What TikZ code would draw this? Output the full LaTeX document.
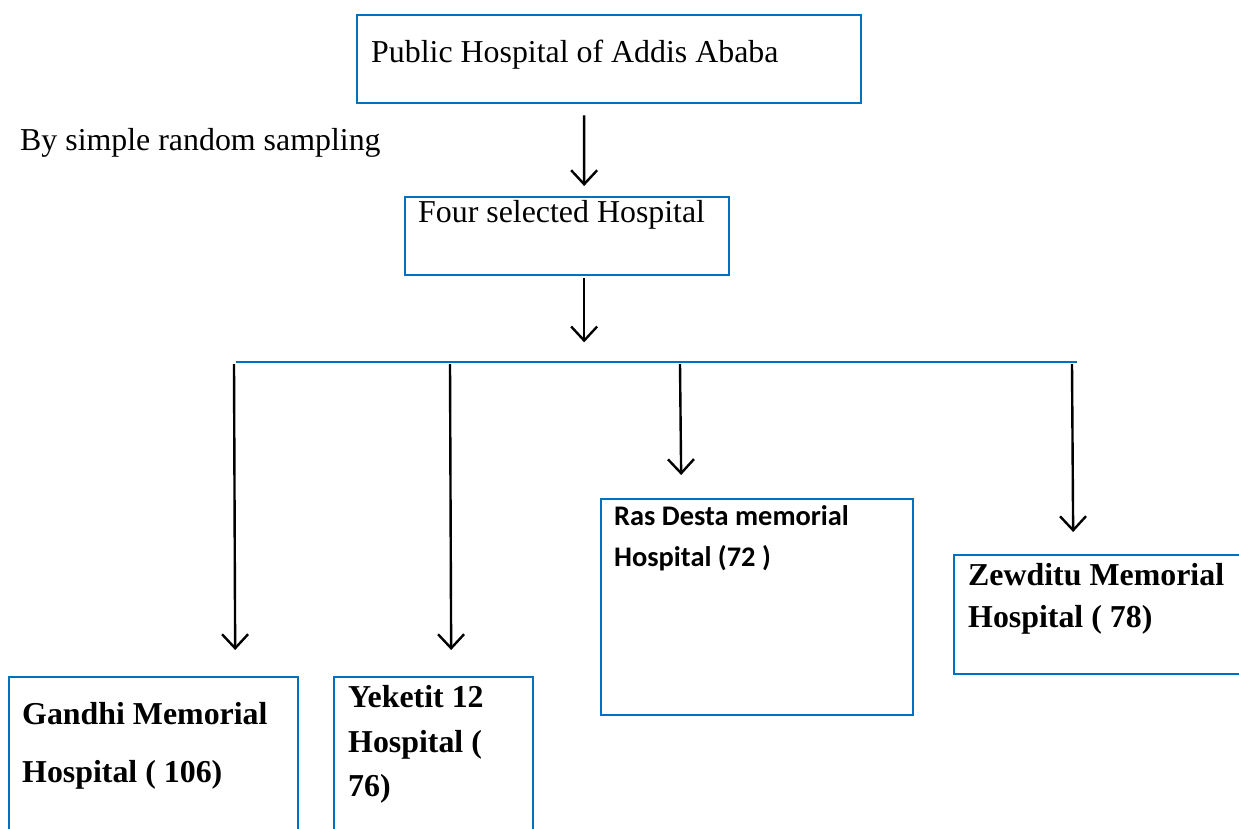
\documentclass[tikz,border=0pt]{standalone}
\usepackage{fontspec}
\setmainfont{Liberation Serif}
\newfontfamily\calibri{Carlito}
\usetikzlibrary{arrows.meta}
\definecolor{wordblue}{RGB}{0,112,192}
\begin{document}
\begin{tikzpicture}[x=1bp,y=-1bp,
  box/.style={draw=wordblue, line width=2.3bp, anchor=north west, inner sep=0pt},
  txt/.style={anchor=base west, inner sep=0pt, font=\fontsize{32}{38}\selectfont},
  btxt/.style={anchor=base west, inner sep=0pt, font=\fontsize{32}{38}\selectfont\bfseries},
  ctxt/.style={anchor=base west, inner sep=0pt, font=\fontsize{28.5}{34}\selectfont\calibri\bfseries},
  arr/.style={line width=2.4bp, -{Straight Barb[length=14bp,width=26bp,line width=2.4bp]}},
]
\useasboundingbox (0,0) rectangle (1239,829);
\clip (0,0) rectangle (1239,829);
\fill[white] (0,0) rectangle (1239,829);

% top
\node[box, minimum width=504bp, minimum height=88bp] (top) at (356,14) {};
\node[txt] (toptext) at (371,62) {Public Hospital of Addis Ababa};
\node[txt] (method) at (20,150) {By simple random sampling};
\node[box, minimum width=324bp, minimum height=78bp] (sel) at (404,196) {};
\node[txt] (seltext) at (418,222) {Four selected Hospital};

\draw[arr] ([shift={(-25,11)}]top.south) -- ([shift={(17,-10)}]sel.north);
\draw[arr] ([shift={(17,2)}]sel.south) -- ++(0,64);

% bus
\coordinate (busL) at (236,362);
\coordinate (busR) at (1077,362);
\draw[wordblue, line width=2.3bp] (busL) -- (busR);

% hospitals
\node[box, minimum width=289bp, minimum height=200bp] (gandhi) at (8,676) {};
\node[box, minimum width=199bp, minimum height=200bp] (yek) at (333,676) {};
\node[box, minimum width=312bp, minimum height=216bp] (ras) at (600,498) {};
\node[box, minimum width=320bp, minimum height=119bp] (zew) at (953,554) {};

\draw[arr] ([shift={(-2,2)}]busL) -- ([shift={(81.5,-26)}]gandhi.north);
\draw[arr] ([shift={(214,2)}]busL) -- ([shift={(17.5,-26)}]yek.north);
\draw[arr] ([shift={(444,2)}]busL) -- ([shift={(-76,-23)}]ras.north);
\draw[arr] ([shift={(-5,2)}]busR) -- ([shift={(-41,-22)}]zew.north);

\node[btxt] (g1) at (22,724) {Gandhi Memorial};
\node[btxt] (g2) at (22,782) {Hospital ( 106)};
\node[btxt] (y1) at (348,707) {Yeketit 12};
\node[btxt] (y2) at (348,752) {Hospital (};
\node[btxt] (y3) at (348,796) {76)};
\node[ctxt] (r1) at (614,525) {Ras Desta memorial};
\node[ctxt] (r2) at (614,566) {Hospital (72 )};
\node[btxt] (z1) at (968,585) {Zewditu Memorial};
\node[btxt] (z2) at (968,627) {Hospital ( 78)};
\end{tikzpicture}
\end{document}
